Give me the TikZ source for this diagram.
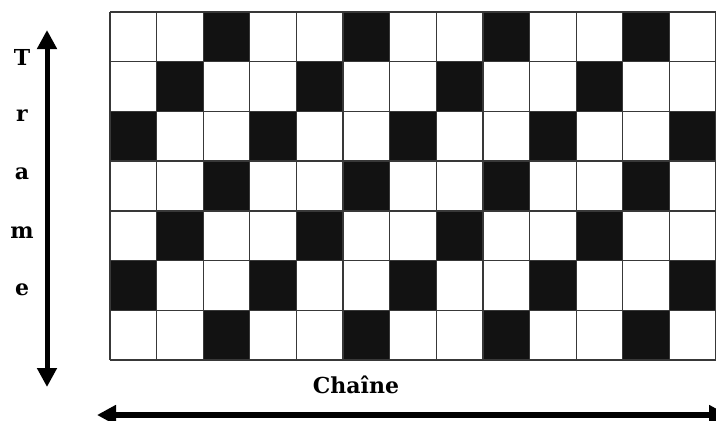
\documentclass[tikz,border=0pt]{standalone}
\usepackage{fontspec}
\setmainfont{DejaVu Serif}
\usetikzlibrary{arrows.meta}
\begin{document}
\begin{tikzpicture}[x=1pt,y=-1pt,
  cellblack/.style={fill=black!93},
  gridline/.style={draw=black!78,line width=1.3pt},
  bigarrow/.style={line width=5pt,{Triangle[length=19pt,width=19pt]}-{Triangle[length=19pt,width=19pt]}},
  lbl/.style={font=\bfseries\fontsize{22}{26}\selectfont,inner sep=0pt}]
\useasboundingbox (0,0) rectangle (716,421);
\clip (0,0) rectangle (716,421);
\fill[white] (0,0) rectangle (716,421);
\foreach \r in {1,...,7} \foreach \c in {1,...,13} {
  \pgfmathtruncatemacro\m{mod(\r+\c,3)}
  \ifnum\m=1
    \fill[cellblack] ({110+(\c-1)*46.615},{12+(\r-1)*49.714}) rectangle ++(46.615,49.714);
  \fi
}
\foreach \c in {0,...,13} \draw[gridline] ({110+\c*46.615},12) -- ({110+\c*46.615},360);
\foreach \r in {0,...,7} \draw[gridline] (110,{12+\r*49.714}) -- (716,{12+\r*49.714});
\coordinate (vtop) at (47,30);
\coordinate (vbot) at (47,387);
\coordinate (hleft) at (97,415);
\coordinate (hright) at (728,415);
\draw[bigarrow] (vtop) -- (vbot);
\draw[bigarrow,line width=6pt] (hleft) -- (hright);
\node[lbl] (t1) at (22,57) {T};
\node[lbl] (t2) at (22,116) {r};
\node[lbl] (t3) at (22,174) {a};
\node[lbl] (t4) at (22,233) {m};
\node[lbl] (t5) at (22,290) {e};
\node[lbl] (ch) at (356,385) {Chaîne};
\end{tikzpicture}
\end{document}
